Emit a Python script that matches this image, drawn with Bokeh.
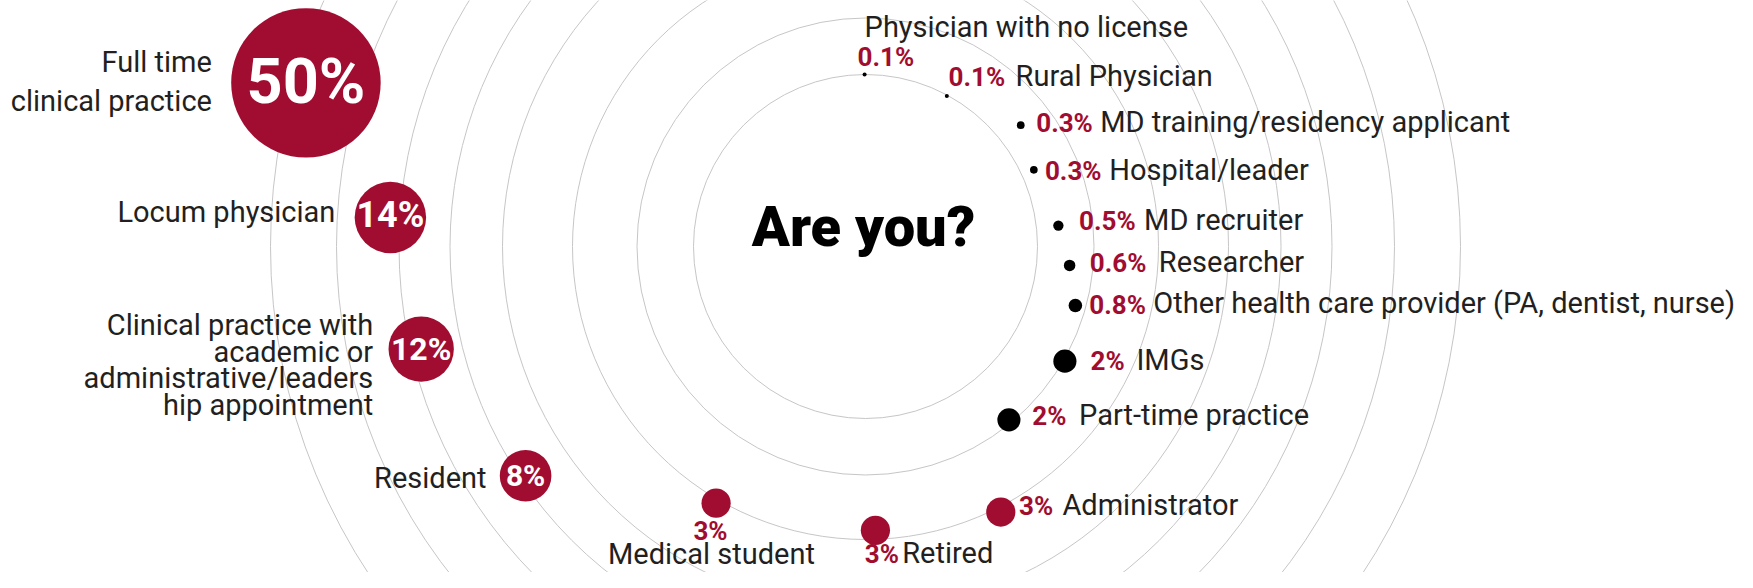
import math
from bokeh.plotting import figure
from bokeh.models import Range1d
from bokeh.core.properties import value
from bokeh.embed import file_html
from bokeh.resources import INLINE

# ---------------- data ----------------
categories = [
    "Full time clinical practice", "Locum physician",
    "Clinical practice with academic or administrative/leadership appointment",
    "Resident", "Medical student", "Retired", "Administrator",
    "Part-time practice", "IMGs",
    "Other health care provider (PA, dentist, nurse)", "Researcher",
    "MD recruiter", "Hospital/leader", "MD training/residency applicant",
    "Rural Physician", "Physician with no license",
]
values = [50, 14, 12, 8, 3, 3, 3, 2, 2, 0.8, 0.6, 0.5, 0.3, 0.3, 0.1, 0.1]
name_lines = [
    ["Full time", "clinical practice"], ["Locum physician"],
    ["Clinical practice with", "academic or", "administrative/leaders", "hip appointment"],
    ["Resident"], ["Medical student"], ["Retired"], ["Administrator"],
    ["Part-time practice"], ["IMGs"],
    ["Other health care provider (PA, dentist, nurse)"], ["Researcher"],
    ["MD recruiter"], ["Hospital/leader"], ["MD training/residency applicant"],
    ["Rural Physician"], ["Physician with no license"],
]
title_text = "Are you?"

# ---------------- layout (not data) ----------------
W, H = 1737, 572
CX, CY = 865, 246
ring_r = [172, 228.5, 293, 363, 415.5, 466.5, 529, 595]
pos_angle = [163.7, 176.5, -167, -146, -120.2, -88, -63, -50.4, -29.9,
             -15.7, -5.3, 6.2, 24.5, 38, 61.6, 90.3]
pos_dist = [583, 476, 456, 410, 297, 284, 298, 225, 230, 218, 205, 194,
            185, 197, 171, 172]
# offsets from bubble centre; dy values are text baselines
# (pct_dx, pct_dy, pct_align, pct_size, name_dx, name_dy, name_align, line_h)
lab = [
    (0, 21, "center", 63, -94, -10.3, "right", 38.3),
    (0, 10, "center", 36, -55, 5, "right", 0),
    (0, 11.7, "center", 32, -48, -13.3, "right", 26.4),
    (0, 10.5, "center", 30, -39, 12.2, "right", 0),
    (-5.6, 36.7, "center", 26, -4.6, 60.7, "center", 0),
    (-10.7, 33.2, "left", 26, 26.8, 33.2, "left", 0),
    (18.3, 3.3, "left", 26, 61.6, 3.3, "left", 0),
    (23.4, 5, "left", 26, 70.1, 5, "left", 0),
    (25.7, 9.3, "left", 26, 71.6, 9.3, "left", 0),
    (14, 8.3, "left", 26, 78, 8.3, "left", 0),
    (20.2, 6.7, "left", 26, 89.2, 6.7, "left", 0),
    (20.7, 5, "left", 26, 85.7, 5, "left", 0),
    (11.1, 10.7, "left", 26, 75.4, 10.7, "left", 0),
    (15.5, 6.7, "left", 26, 79.4, 6.7, "left", 0),
    (1.7, -9.7, "left", 26, 68.7, -9.7, "left", 0),
    (-7, -8.3, "left", 26, 0, -37.3, "left", 0),
]

RED = "#A10D30"
INK = "#231F20"
RING = "#C6C6C6"
FONT = "Roboto"
CAP = 0.355  # cap-centre offset from baseline, in em

def radius_of(v):
    # power scale for bubble size
    return 7.73 * v ** 0.58

bx = [CX + d * math.cos(math.radians(a)) for a, d in zip(pos_angle, pos_dist)]
by = [CY - d * math.sin(math.radians(a)) for a, d in zip(pos_angle, pos_dist)]
br = [radius_of(v) for v in values]
bc = [RED if v >= 3 else "#000000" for v in values]

p = figure(width=W, height=H, x_range=Range1d(0, W), y_range=Range1d(H, 0),
           output_backend="svg", toolbar_location=None, min_border=0,
           x_axis_type=None, y_axis_type=None)
p.xgrid.visible = False
p.ygrid.visible = False
p.outline_line_color = None
p.background_fill_color = "white"
p.border_fill_color = "white"

# rings
p.circle(x=[CX] * len(ring_r), y=[CY] * len(ring_r), radius=ring_r,
         fill_color=None, line_color=RING, line_width=1)

# bubbles
p.circle(x=bx, y=by, radius=br, fill_color=bc, line_color=None)

def txt(x, y_base, s, size, color, align, bold=False, font=FONT):
    p.text(x=[x], y=[y_base - CAP * size], text=[s], text_font=value(font),
           text_font_size=f"{size}px", text_color=color, text_align=align,
           text_baseline="middle", text_font_style="bold" if bold else "normal")

for i, v in enumerate(values):
    pdx, pdy, palign, psize, ndx, ndy, nalign, lh = lab[i]
    pct = f"{v:g}%"
    inside = v >= 8
    txt(bx[i] + pdx, by[i] + pdy, pct, psize, "white" if inside else RED, palign, bold=True)
    for k, line in enumerate(name_lines[i]):
        txt(bx[i] + ndx, by[i] + ndy + k * lh, line, 29, INK, nalign)

txt(CX - 2, CY + 0.7, title_text, 56, "#000000", "center", font="Roboto Black")

open("out.html", "w").write(file_html(p, INLINE))
